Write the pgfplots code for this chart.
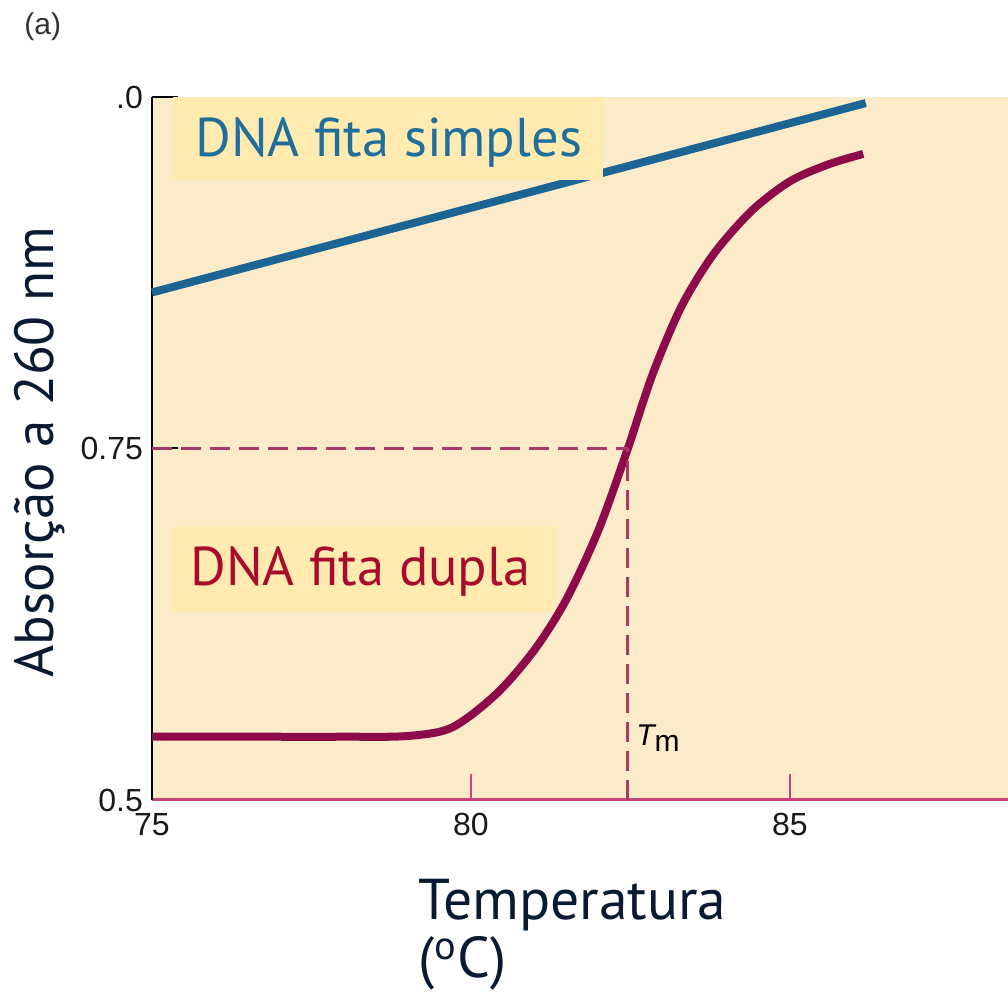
\documentclass[border=0pt]{standalone}
\usepackage{fontspec}
\setmainfont{PT Sans}
\newfontfamily\lib{Liberation Sans}
\usepackage{pgfplots}
\pgfplotsset{compat=1.18}
\definecolor{bgc}{HTML}{FBEBC9}
\definecolor{boxc}{HTML}{FFEBB0}
\definecolor{bluel}{HTML}{1C6494}
\definecolor{redl}{HTML}{8E0B4B}
\definecolor{bluet}{HTML}{1F6E9C}
\definecolor{redt}{HTML}{A80C2C}
\definecolor{dashc}{HTML}{A83A6A}
\definecolor{axmag}{HTML}{C8457F}
\definecolor{navy}{HTML}{0B1A33}
\begin{document}
\begin{tikzpicture}
\useasboundingbox (0,0) rectangle (504pt,498pt);
\clip (0,0) rectangle (504pt,498pt);
\begin{axis}[
  at={(76pt,98pt)}, anchor=south west,
  scale only axis, width=428pt, height=351.5pt,
  xmin=75, xmax=88.42, ymin=0.5, ymax=1.0,
  axis x line*=bottom, axis y line*=left,
  axis line style={-},
  x axis line style={axmag, line width=1.5pt},
  y axis line style={black, line width=1pt},
  axis background/.style={fill=bgc},
  xtick={75,80,85}, ytick={0.5,0.75,1.0},
  yticklabels={0.5,0.75,.0},
  tick align=inside,
  major tick length=13pt,
  x tick style={axmag, line width=1.2pt},
  y tick style={black, line width=1pt},
  /pgf/number format/assume math mode=true,
  ticklabel style={font=\lib\fontsize{16}{18}\selectfont, text=black!90},
  xticklabel style={yshift=-3pt},
  yticklabel style={xshift=-1pt},
  clip=false,
]
\addplot[bluel, line width=4pt] coordinates {(75,0.861) (86.19,0.9957)};
\addplot[redl, line width=4pt, smooth] coordinates {
(75,0.545) (76.5,0.545) (78,0.545) (79,0.5455) (79.7,0.5515) (80.4,0.5755)
(81.0,0.607) (81.5,0.643) (82.0,0.692) (82.46,0.75) (82.85,0.803)
(83.3,0.851) (83.8,0.888) (84.4,0.919) (85.0,0.940) (85.6,0.952) (86.15,0.9595)};
\addplot[dashc, line width=1.5pt, dash pattern=on 10pt off 4.5pt] coordinates {(75,0.75) (82.46,0.75)};
\addplot[dashc, line width=1.5pt, dash pattern=on 10pt off 4.5pt] coordinates {(82.46,0.5) (82.46,0.75)};
\end{axis}
% label boxes
\fill[boxc] (86.5pt,408pt) rectangle (301.5pt,449.5pt);
\node[anchor=base west, inner sep=0, text=bluet, font=\fontsize{27.3}{30}\selectfont] at (97.5pt,419.5pt) {DNA fita simples};
\fill[boxc] (86pt,192pt) rectangle (277.5pt,234.5pt);
\node[anchor=base west, inner sep=0, text=redt, font=\fontsize{27.3}{30}\selectfont] at (95pt,205pt) {DNA fita dupla};
% Tm
\node[anchor=base west, inner sep=0, font=\lib\fontsize{15}{17}\selectfont] at (318pt,125pt) {\itshape T\raisebox{-0.35ex}{\upshape m}};
% (a)
\node[anchor=base west, inner sep=0, text=black!80, font=\lib\fontsize{15}{17}\selectfont] at (12pt,480.5pt) {(a)};
% axis labels
\node[rotate=90, inner sep=0, text=navy, font=\fontsize{27.5}{30}\selectfont] at (20pt,272pt) {Absorção a 260 nm};
\node[anchor=base west, inner sep=0, text=navy, font=\fontsize{28.8}{32}\selectfont] at (209pt,38pt) {Temperatura};
\node[anchor=base west, inner sep=0, text=navy, font=\fontsize{28.8}{32}\selectfont] at (209pt,9pt) {(\textsuperscript{o}C)};
\end{tikzpicture}
\end{document}
